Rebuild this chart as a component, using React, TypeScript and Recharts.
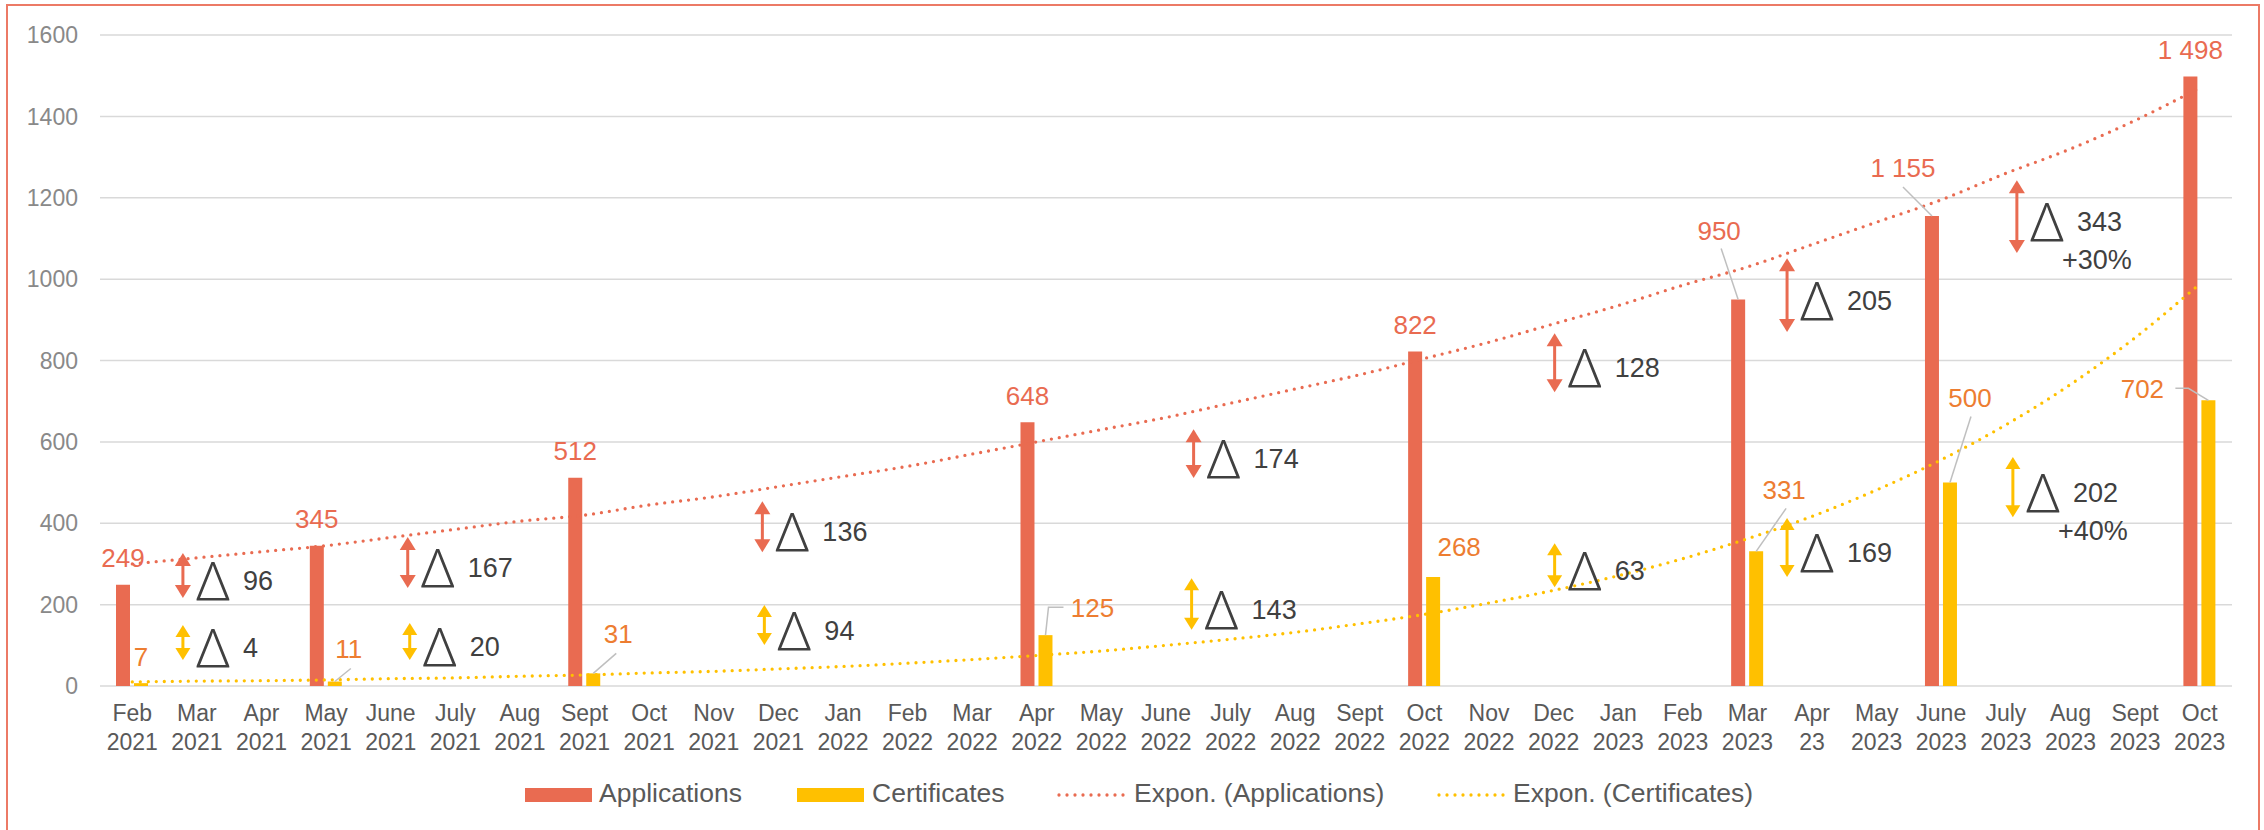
import React from "react";
import {
  ComposedChart,
  Bar,
  Line,
  XAxis,
  YAxis,
  CartesianGrid,
  LabelList,
  ReferenceLine,
} from "recharts";

// months on the x axis (note the odd "Apr 23" label in the source)
const months = [
  "Feb 2021", "Mar 2021", "Apr 2021", "May 2021", "June 2021", "July 2021",
  "Aug 2021", "Sept 2021", "Oct 2021", "Nov 2021", "Dec 2021", "Jan 2022",
  "Feb 2022", "Mar 2022", "Apr 2022", "May 2022", "June 2022", "July 2022",
  "Aug 2022", "Sept 2022", "Oct 2022", "Nov 2022", "Dec 2022", "Jan 2023",
  "Feb 2023", "Mar 2023", "Apr 23", "May 2023", "June 2023", "July 2023",
  "Aug 2023", "Sept 2023", "Oct 2023",
];

const applications = [
  249, null, null, 345, null, null, null, 512, null, null, null, null, null,
  null, 648, null, null, null, null, null, 822, null, null, null, null, 950,
  null, null, 1155, null, null, null, 1498,
];

const certificates = [
  7, null, null, 11, null, null, null, 31, null, null, null, null, null,
  null, 125, null, null, null, null, null, 268, null, null, null, null, 331,
  null, null, 500, null, null, null, 702,
];

// exponential trend lines
const appsTrend = [
  300, 315, 330, 345, 365, 385, 405, 420, 445, 465, 490, 515, 540, 570, 600,
  630, 660, 695, 730, 765, 805, 845, 890, 935, 985, 1030, 1085, 1140, 1195,
  1260, 1320, 1390, 1470,
];

const certTrend = [
  10, 12, 13, 15, 18, 20, 24, 27, 32, 36, 42, 48, 56, 65, 75, 86, 100, 115,
  132, 153, 176, 204, 235, 271, 313, 362, 417, 482, 556, 642, 741, 856, 988,
];

const yTicks = [0, 200, 400, 600, 800, 1000, 1200, 1400, 1600];

// delta call-outs: anchor month, arrow top / bottom value, delta
const appDeltas = [
  { month: "Mar 2021", hi: 327, lo: 216, delta: "96" },
  { month: "June 2021", hi: 366, lo: 241, delta: "167" },
  { month: "Dec 2021", hi: 454, lo: 329, delta: "136" },
  { month: "July 2022", hi: 631, lo: 511, delta: "174" },
  { month: "Dec 2022", hi: 867, lo: 722, delta: "128" },
  { month: "Apr 23", hi: 1051, lo: 870, delta: "205" },
  { month: "July 2023", hi: 1243, lo: 1064, delta: "343", pct: "+30%" },
];

const certDeltas = [
  { month: "Mar 2021", hi: 150, lo: 64, delta: "4" },
  { month: "June 2021", hi: 155, lo: 64, delta: "20" },
  { month: "Dec 2021", hi: 199, lo: 101, delta: "94" },
  { month: "July 2022", hi: 265, lo: 138, delta: "143" },
  { month: "Dec 2022", hi: 351, lo: 243, delta: "63" },
  { month: "Apr 23", hi: 413, lo: 268, delta: "169" },
  { month: "July 2023", hi: 563, lo: 415, delta: "202", pct: "+40%" },
];

// horizontal nudges of the arrows from the band centre (px)
const appDeltaShift = [-14, 17, -16, -37, 1, -25, 11];
const certDeltaShift = [-14, 19, -14, -39, 1, -25, 7];

const APPS = "#E96B51";
const CERT = "#FFC000";
const CERT_TEXT = "#ED7D31";
const FONT = "'Liberation Sans', Arial, Helvetica, sans-serif";
const DELTA_FONT = "'Open Sans', 'Liberation Sans', sans-serif";

const data = months.map((month, i) => ({
  month,
  applications: applications[i],
  certificates: certificates[i],
  appsTrend: appsTrend[i],
  certTrend: certTrend[i],
}));

const fmt = (v: number) =>
  v >= 1000 ? `${Math.floor(v / 1000)} ${String(v % 1000).padStart(3, "0")}` : String(v);

type Nudge = { dx: number; dy: number; leader?: [number, number][] };

// data label placement tweaks, keyed by month index
const appNudges: Record<number, Nudge> = {
  25: { dx: -19, dy: -42, leader: [[2, 18]] },
  28: { dx: -29, dy: -21, leader: [[0, 19]] },
};

const certNudges: Record<number, Nudge> = {
  3: { dx: 14, dy: -6, leader: [[2, 20]] },
  7: { dx: 25, dy: -13, leader: [[-2, 20]] },
  14: { dx: 47, dy: -1, leader: [[-29, 0], [-44, 0]] },
  20: { dx: 26, dy: -3 },
  25: { dx: 28, dy: -35, leader: [[2, 19]] },
  28: { dx: 20, dy: -58, leader: [[1, 19]] },
  32: { dx: -66, dy: 15, leader: [[33, 0], [46, 0]] },
};

const makeValueLabel =
  (color: string, series: (number | null)[], nudges: Record<number, Nudge>) =>
  (props: any) => {
    const { value } = props;
    if (value == null) return null;
    const vb = props.viewBox ?? props;
    if (vb == null || vb.x == null) return null;
    const idx = series.indexOf(Number(value));
    const cx = vb.x + vb.width / 2;
    const top = vb.y;
    const n = nudges[idx] ?? { dx: 0, dy: 0 };
    const lx = cx + n.dx;
    const ly = top - 27 + n.dy;
    const pts = n.leader
      ? [...n.leader.map(([a, b]) => `${lx + a},${ly + b}`), `${cx},${top}`].join(" ")
      : null;
    return (
      <g>
        {pts && <polyline points={pts} fill="none" stroke="#BFBFBF" strokeWidth={1.5} />}
        <text
          x={lx}
          y={ly}
          dy="0.36em"
          textAnchor="middle"
          fontSize={26}
          fill={color}
          fontFamily={FONT}
        >
          {fmt(Number(value))}
        </text>
      </g>
    );
  };

const makeDelta =
  (color: string, headW: number, headH: number, shift: number, delta: string, pct?: string) =>
  (props: any) => {
    const { x1, y1, y2 } = props;
    if (x1 == null) return <g />;
    const x = x1 + shift;
    const top = Math.min(y1, y2);
    const bot = Math.max(y1, y2);
    const mid = (top + bot) / 2 + 5;
    return (
      <g>
        <line x1={x} x2={x} y1={top + headH - 1} y2={bot - headH + 1} stroke={color} strokeWidth={3} />
        <polygon points={`${x},${top} ${x - headW / 2},${top + headH} ${x + headW / 2},${top + headH}`} fill={color} />
        <polygon points={`${x},${bot} ${x - headW / 2},${bot - headH} ${x + headW / 2},${bot - headH}`} fill={color} />
        <text
          transform={`translate(${x + 13},${mid}) scale(1.12,1)`}
          x={0}
          y={0}
          dy="0.37em"
          fontSize={53}
          fontWeight={300}
          fill="#404040"
          fontFamily={DELTA_FONT}
        >
          Δ
        </text>
        <text x={x + 60} y={mid} dy="0.36em" fontSize={27} fill="#404040" fontFamily={FONT}>
          {delta}
        </text>
        {pct && (
          <text x={x + 80} y={mid + 38} dy="0.36em" textAnchor="middle" fontSize={27} fill="#404040" fontFamily={FONT}>
            {pct}
          </text>
        )}
      </g>
    );
  };

const MonthTick = ({ x, y, payload }: any) => {
  const parts = String(payload.value).split(" ");
  return (
    <g>
      <text x={x} y={y + 35} textAnchor="middle" fontSize={23} fill="#595959" fontFamily={FONT}>
        {parts[0]}
      </text>
      <text x={x} y={y + 64} textAnchor="middle" fontSize={23} fill="#595959" fontFamily={FONT}>
        {parts[1]}
      </text>
    </g>
  );
};

function LegendOverlay() {
  const textProps = { fontSize: 26.5, fill: "#595959", fontFamily: FONT, y: 802 };
  return (
    <svg
      width={2264}
      height={830}
      style={{ position: "absolute", left: 0, top: 0, pointerEvents: "none" }}
    >
      <rect x={525} y={788} width={67} height={14} fill={APPS} />
      <text x={599} {...textProps}>Applications</text>
      <rect x={797} y={788} width={67} height={14} fill={CERT} />
      <text x={872} {...textProps}>Certificates</text>
      <line x1={1059} x2={1126} y1={795} y2={795} stroke={APPS} strokeWidth={3.3} strokeDasharray="0 8" strokeLinecap="round" />
      <text x={1134} {...textProps}>Expon. (Applications)</text>
      <line x1={1439} x2={1504} y1={795} y2={795} stroke={CERT} strokeWidth={3.3} strokeDasharray="0 8" strokeLinecap="round" />
      <text x={1513} {...textProps}>Expon. (Certificates)</text>
    </svg>
  );
}

export default function App() {
  return (
    <div
      style={{
        position: "absolute",
        left: 0,
        top: 0,
        width: 2264,
        height: 830,
        overflow: "hidden",
        background: "#fff",
        fontFamily: FONT,
      }}
    >
      <div
        style={{
          position: "absolute",
          left: 6,
          top: 4,
          width: 2250,
          height: 900,
          border: "2px solid #EC7A66",
        }}
      />
      <div style={{ position: "absolute", left: 0, top: 0 }}>
        <ComposedChart
          width={2264}
          height={830}
          data={data}
          margin={{ top: 35, right: 32, bottom: 74, left: 0 }}
          barGap={4}
        >
          <CartesianGrid vertical={false} stroke="#D9D9D9" strokeWidth={1.5} />
          <XAxis
            dataKey="month"
            interval={0}
            axisLine={false}
            tickLine={false}
            tickSize={0}
            tickMargin={0}
            height={70}
            tick={<MonthTick />}
          />
          <YAxis
            domain={[0, 1600]}
            ticks={yTicks}
            width={100}
            axisLine={false}
            tickLine={false}
            tickSize={0}
            tickMargin={22}
            tick={{ fontSize: 23, fill: "#898989", fontFamily: FONT }}
          />
          <Bar dataKey="applications" fill={APPS} barSize={14} isAnimationActive={false}>
            <LabelList dataKey="applications" content={makeValueLabel(APPS, applications, appNudges)} />
          </Bar>
          <Bar dataKey="certificates" fill={CERT} barSize={14} isAnimationActive={false}>
            <LabelList dataKey="certificates" content={makeValueLabel(CERT_TEXT, certificates, certNudges)} />
          </Bar>
          <Line
            dataKey="appsTrend"
            type="monotone"
            stroke={APPS}
            strokeWidth={3.3}
            strokeDasharray="0 8"
            strokeLinecap="round"
            dot={false}
            activeDot={false}
            isAnimationActive={false}
          />
          <Line
            dataKey="certTrend"
            type="monotone"
            stroke={CERT}
            strokeWidth={3.3}
            strokeDasharray="0 8"
            strokeLinecap="round"
            dot={false}
            activeDot={false}
            isAnimationActive={false}
          />
          {appDeltas.map((d, i) => (
            <ReferenceLine
              key={`a-${d.month}`}
              segment={[
                { x: d.month, y: d.hi },
                { x: d.month, y: d.lo },
              ]}
              ifOverflow="visible"
              shape={makeDelta(APPS, 16, 13, appDeltaShift[i], d.delta, d.pct)}
            />
          ))}
          {certDeltas.map((d, i) => (
            <ReferenceLine
              key={`c-${d.month}`}
              segment={[
                { x: d.month, y: d.hi },
                { x: d.month, y: d.lo },
              ]}
              ifOverflow="visible"
              shape={makeDelta(CERT, 15, 12, certDeltaShift[i], d.delta, d.pct)}
            />
          ))}
        </ComposedChart>
      </div>
      <LegendOverlay />
    </div>
  );
}
